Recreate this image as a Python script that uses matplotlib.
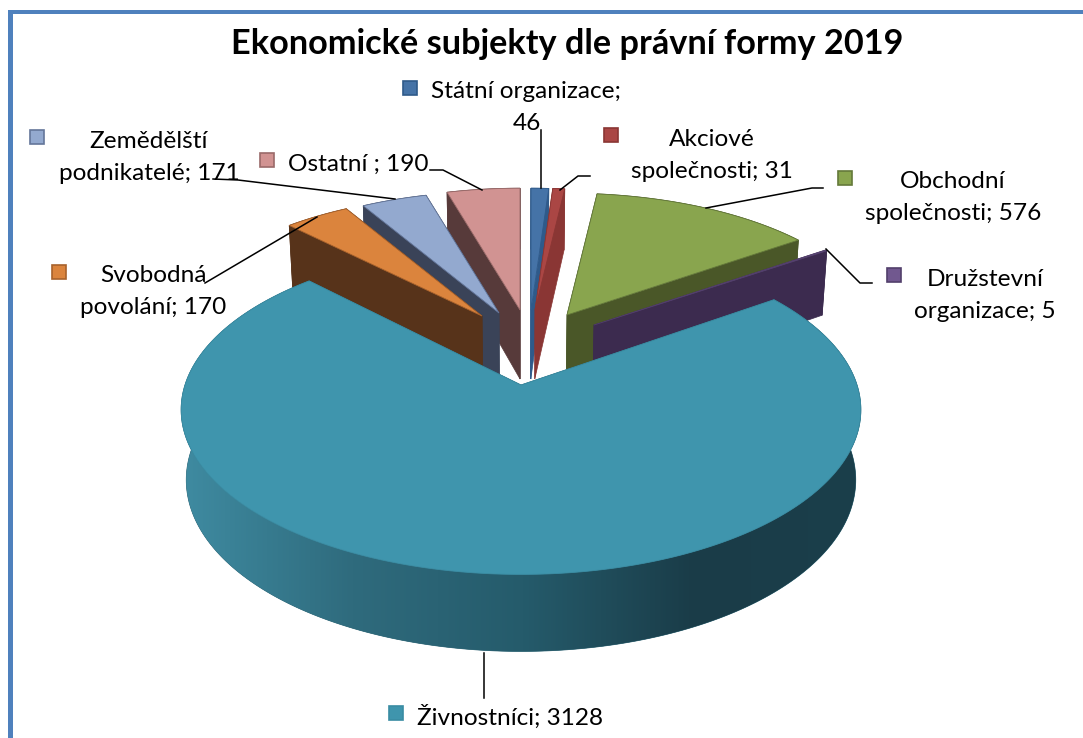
import matplotlib
matplotlib.use('Agg')
import matplotlib.pyplot as plt
from matplotlib.colors import LinearSegmentedColormap
from matplotlib.patches import Polygon, Rectangle
import numpy as np

plt.rcParams['font.family'] = ['Lato', 'DejaVu Sans']

# Data
names = ['Státní organizace', 'Akciové společnosti', 'Obchodní společnosti',
         'Družstevní organizace', 'Živnostníci', 'Svobodná povolání',
         'Zemědělští podnikatelé', 'Ostatní']
values = [46, 31, 576, 5, 3128, 170, 171, 190]

# Colours (top, wall, edge)
tops = ['#4573a7', '#aa4644', '#89a54e', '#71588f', '#3f95ad', '#db843d', '#93a9cf', '#d19392']
walls = ['#2f5a8a', '#8a3634', '#4a5728', '#3c2b4f', '#2a6272', '#57331a', '#3a4358', '#573a3a']
edges = ['#2f5a8a', '#8a3634', '#64793a', '#523f6b', '#3a8ca3', '#a8622c', '#64769a', '#9a6a69']

# Where each exploded slice sits in the picture: apex x, apex y, scale x, scale y
placing = [(531, 310, .91, .87), (535, 310, .91, .87), (567, 315, .92, .87),
           (594, 325, .92, .87), (521, 385, 1, 1), (482, 316, .91, .87),
           (499, 313, .91, .87), (520, 310, .91, .87)]
draw_order = [7, 6, 5, 0, 1, 2, 3, 4]

RX, RY, PERSP = 336, 161, 0.15
CX = 521

fig = plt.figure(figsize=(10.83, 7.38), dpi=100)
ax = fig.add_axes([0, 0, 1, 1])
ax.set_xlim(0, 1083)
ax.set_ylim(738, 0)
ax.axis('off')

# Frame, open on the right and at the bottom
ax.add_patch(Rectangle((8, 10), 1075, 3.5, fc='#4f81bd', ec='none'))
ax.add_patch(Rectangle((8, 10), 4.5, 728, fc='#4f81bd', ec='none'))

# Angles come from the values, clockwise from 12 o'clock
cum = np.cumsum([0] + values) / sum(values) * 2 * np.pi


def rim(theta, place):
    ax0, ay0, sx, sy = place
    X, Y = np.sin(theta), np.cos(theta)
    s = 1 / (1 + PERSP * Y)
    return np.column_stack([ax0 + RX * sx * X * s, ay0 - RY * sy * Y * s]), Y


def lower(pts, Y):
    # points of the lower face of the slab
    out = pts.copy()
    out[:, 0] = CX + (pts[:, 0] - CX) * 0.985
    out[:, 1] = pts[:, 1] + 69 - 8 * Y
    return out


shade = LinearSegmentedColormap.from_list('side', ['#3f8ba1', '#2f6b7d', '#255b6b', '#1a3c48', '#1b3f4b'])

z = 2
for i in draw_order:
    place = placing[i]
    theta = np.linspace(cum[i], cum[i + 1], max(3, int(values[i] / 6)))
    pts, Y = rim(theta, place)
    apex = np.array([[place[0], place[1]]], dtype=float)
    low = lower(pts, Y)
    low_apex = lower(apex, np.array([0.0]))

    # radial walls
    for k in (0, -1):
        wall = np.vstack([apex, pts[[k]], low[[k]], low_apex])
        ax.add_patch(Polygon(wall, closed=True, fc=walls[i], ec=walls[i], lw=0.5, zorder=z))
    # outer wall
    side = Polygon(np.vstack([pts, low[::-1]]), closed=True, fc=walls[i], ec=walls[i], lw=0.5, zorder=z)
    ax.add_patch(side)
    if names[i] == 'Živnostníci':
        grad = np.linspace(0, 1, 256)[None, :]
        im = ax.imshow(grad, cmap=shade, aspect='auto', zorder=z + 0.5,
                       extent=(low[:, 0].min() - 5, pts[:, 0].max() + 5, 738, 300))
        im.set_clip_path(side)
        ax.set_xlim(0, 1083)
        ax.set_ylim(738, 0)
    # top face
    ax.add_patch(Polygon(np.vstack([apex, pts]), closed=True, fc=tops[i], ec=edges[i], lw=0.6, zorder=z + 1))
    z += 2

# Leader lines
leaders = [
    [(541, 130), (541, 188)],
    [(590, 176), (578, 176), (560, 190)],
    [(823, 188), (812, 188), (706, 208)],
    [(826, 249), (860, 283), (872, 283)],
    [(484, 653), (484, 698)],
    [(205, 283), (317, 217)],
    [(213, 179), (238, 180), (395, 199)],
    [(430, 170), (443, 170), (482, 190)],
]
for line in leaders:
    xs, ys = zip(*line)
    ax.plot(xs, ys, color='black', lw=1.1, zorder=30)

# Title
ax.text(567, 43.5, 'Ekonomické subjekty dle právní formy 2019', fontsize=24.7, fontweight='bold',
        ha='center', va='center', color='black', zorder=31)

# Data labels: marker x, marker y, text x, text y, alignment, text
labels = [
    (410, 88, 431, 91, 'left', 'Státní organizace;'),
    (611, 135, 712, 139, 'center', 'Akciové'),
    (845, 178, 953, 182, 'center', 'Obchodní'),
    (894, 275, 985, 279, 'center', 'Družstevní'),
    (396, 713, 417, 717, 'left', f'{names[4]}; {values[4]}'),
    (59, 272, 153, 276, 'center', 'Svobodná'),
    (37, 137, 149, 141, 'center', 'Zemědělští'),
    (267, 160, 288, 164, 'left', f'{names[7]} ; {values[7]}'),
]
second_lines = [
    (527, 123, str(values[0])),
    (712, 171, f'společnosti; {values[1]}'),
    (953, 214, f'společnosti; {values[2]}'),
    (985, 311, f'organizace; {values[3]}'),
    (153, 308, f'povolání; {values[5]}'),
    (149, 173, f'podnikatelé; {values[6]}'),
]
for i, (mx, my, tx, ty, ha, txt) in enumerate(labels):
    ax.add_patch(Rectangle((mx - 7, my - 7), 14, 14, fc=tops[i], ec=edges[i], lw=1.2, zorder=31))
    ax.text(tx, ty, txt, fontsize=17.6, ha=ha, va='center', color='black', zorder=31)
for tx, ty, txt in second_lines:
    ax.text(tx, ty, txt, fontsize=17.6, ha='center', va='center', color='black', zorder=31)

fig.savefig('out.png', dpi=100, facecolor='white')
